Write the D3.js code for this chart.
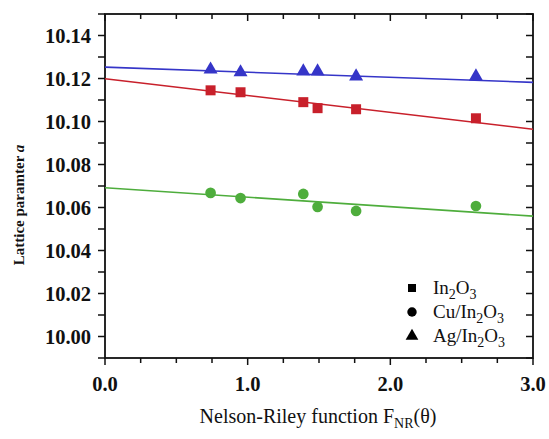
<!DOCTYPE html>
<html>
<head>
<meta charset="utf-8">
<script src="https://cdn.jsdelivr.net/npm/d3@7"></script>
<style>
  html, body { margin: 0; padding: 0; background: #fff; }
  svg { display: block; }
  text { font-family: "Liberation Serif", "Times New Roman", serif; fill: #111; }
</style>
</head>
<body>
<svg id="chart" width="549" height="439"></svg>
<script>
// Nelson-Riley function values of the measured reflections
const fnr = [0.74, 0.95, 1.39, 1.49, 1.76, 2.60];

// Lattice parameter a for each sample
const aIn2O3   = [10.1145, 10.1136, 10.1090, 10.1062, 10.1057, 10.1015];
const aCuIn2O3 = [10.0668, 10.0644, 10.0663, 10.0603, 10.0584, 10.0607];
const aAgIn2O3 = [10.1242, 10.1229, 10.1233, 10.1233, 10.1210, 10.1210];

// Linear extrapolation fits: a = intercept + slope * F_NR
const fitIntercept = [10.1199, 10.0692, 10.1253];
const fitSlope     = [-0.00783, -0.00440, -0.00237];

const seriesNames  = ["In2O3", "Cu/In2O3", "Ag/In2O3"];
const seriesShapes = ["square", "circle", "triangle"];
const seriesColors = ["#c8202b", "#4ead3c", "#3535c8"];

const xTickLabels = ["0.0", "1.0", "2.0", "3.0"];
const yTickLabels = ["10.00", "10.02", "10.04", "10.06", "10.08", "10.10", "10.12", "10.14"];

const seriesValues = [aIn2O3, aCuIn2O3, aAgIn2O3];

const svg = d3.select("#chart");
const plotL = 105, plotR = 533, plotT = 14, plotB = 358;

const x = d3.scaleLinear().domain([0, 3]).range([plotL, plotR]);
const y = d3.scaleLinear().domain([9.99, 10.15]).range([plotB, plotT]);

const axisColor = "#111";

// minor + major tick values
const xTicks = d3.range(0, 3.0001, 0.25);
const yTicks = d3.range(9.99, 10.1501, 0.01).map(v => +v.toFixed(2));
const isMajorX = v => Math.abs(v - Math.round(v)) < 1e-6;

// Bottom axis (outward ticks, labelled)
const gB = svg.append("g").attr("transform", `translate(0,${plotB})`);
gB.selectAll("line").data(xTicks).join("line")
  .attr("x1", d => x(d)).attr("x2", d => x(d))
  .attr("y1", 0).attr("y2", d => isMajorX(d) ? 7 : 5)
  .attr("stroke", axisColor).attr("stroke-width", 1.5);
gB.selectAll("text").data(xTickLabels).join("text")
  .attr("x", d => x(+d)).attr("y", 33)
  .attr("text-anchor", "middle")
  .attr("font-size", 20.5).attr("font-weight", "bold")
  .text(d => d);

// Top axis (inward ticks)
svg.append("g").selectAll("line").data(xTicks).join("line")
  .attr("x1", d => x(d)).attr("x2", d => x(d))
  .attr("y1", plotT).attr("y2", d => plotT + (isMajorX(d) ? 7 : 5))
  .attr("stroke", axisColor).attr("stroke-width", 1.5);

// Left axis (outward ticks, labelled)
const gL = svg.append("g");
gL.selectAll("line").data(yTicks).join("line")
  .attr("x1", plotL - 7).attr("x2", plotL)
  .attr("y1", d => y(d)).attr("y2", d => y(d))
  .attr("stroke", axisColor).attr("stroke-width", 1.5);
gL.selectAll("text").data(yTickLabels).join("text")
  .attr("x", plotL - 14).attr("y", d => y(+d))
  .attr("dy", "0.35em")
  .attr("text-anchor", "end")
  .attr("font-size", 20.5).attr("font-weight", "bold")
  .text(d => d);

// Right axis (inward ticks)
svg.append("g").selectAll("line").data(yTicks).join("line")
  .attr("x1", plotR - 7).attr("x2", plotR)
  .attr("y1", d => y(d)).attr("y2", d => y(d))
  .attr("stroke", axisColor).attr("stroke-width", 1.5);

// Frame
svg.append("rect")
  .attr("x", plotL).attr("y", plotT)
  .attr("width", plotR - plotL).attr("height", plotB - plotT)
  .attr("fill", "none").attr("stroke", axisColor).attr("stroke-width", 1.8);

// Fit lines
const clipId = "plotClip";
svg.append("clipPath").attr("id", clipId).append("rect")
  .attr("x", plotL).attr("y", plotT).attr("width", plotR - plotL).attr("height", plotB - plotT);

const line = d3.line().x(d => x(d[0])).y(d => y(d[1]));
const plot = svg.append("g").attr("clip-path", `url(#${clipId})`);
seriesValues.forEach((vals, i) => {
  const pts = [0, 3].map(f => [f, fitIntercept[i] + fitSlope[i] * f]);
  plot.append("path").datum(pts)
    .attr("d", line)
    .attr("fill", "none")
    .attr("stroke", seriesColors[i])
    .attr("stroke-width", 1.6);
});

// Marker symbols
const symbolFor = {
  square: d3.symbol().type(d3.symbolSquare).size(100),
  circle: d3.symbol().type(d3.symbolCircle).size(90),
  triangle: d3.symbol().type(d3.symbolTriangle).size(85)
};

seriesValues.forEach((vals, i) => {
  plot.append("g").selectAll("path").data(vals).join("path")
    .attr("transform", (d, j) => `translate(${x(fnr[j])},${y(d)})`)
    .attr("d", symbolFor[seriesShapes[i]]())
    .attr("fill", seriesColors[i]);
});

// Writes a chemical formula with subscripted digits into a text element
function formula(textSel, str, subSize, shift) {
  const parts = str.match(/[^0-9]+|[0-9]+/g);
  let lowered = false;
  parts.forEach(p => {
    const isSub = /^[0-9]+$/.test(p);
    const ts = textSel.append("tspan").text(p);
    if (isSub) { ts.attr("font-size", subSize).attr("dy", shift); lowered = true; }
    else if (lowered) { ts.attr("dy", -shift); lowered = false; }
  });
}

// Legend
const legendSymbols = {
  square: d3.symbol().type(d3.symbolSquare).size(64),
  circle: d3.symbol().type(d3.symbolCircle).size(70),
  triangle: d3.symbol().type(d3.symbolTriangle).size(70)
};
const legend = svg.append("g").attr("transform", "translate(412,288)");
seriesNames.forEach((name, i) => {
  const row = legend.append("g").attr("transform", `translate(0,${i * 24})`);
  row.append("path").attr("d", legendSymbols[seriesShapes[i]]()).attr("fill", "#000");
  const t = row.append("text").attr("x", 21).attr("y", 6).attr("font-size", 19);
  formula(t, name, 14, 5);
});

// Axis titles
const xt = svg.append("text")
  .attr("x", 318).attr("y", 423)
  .attr("text-anchor", "middle")
  .attr("font-size", 20);
xt.append("tspan").text("Nelson-Riley function F");
xt.append("tspan").attr("font-size", 14).attr("dy", 5).text("NR");
xt.append("tspan").attr("dy", -5).text("(\u03B8)");

const yt = svg.append("text")
  .attr("transform", "translate(24,205) rotate(-90)")
  .attr("text-anchor", "middle")
  .attr("font-size", 15).attr("font-weight", "bold");
yt.append("tspan").text("Lattice paramter ");
yt.append("tspan").attr("font-style", "italic").text("a");
</script>
</body>
</html>
